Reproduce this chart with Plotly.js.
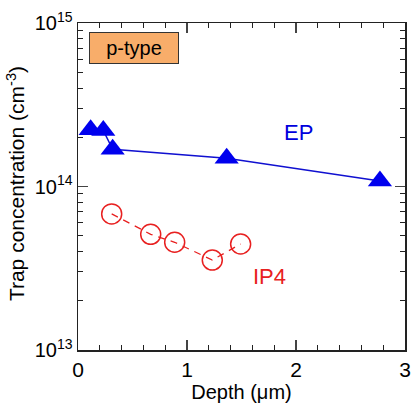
<!DOCTYPE html>
<html><head><meta charset="utf-8">
<script src="https://cdn.plot.ly/plotly-3.0.1.min.js"></script>
<style>body{margin:0;background:#fff}#c{width:413px;height:405px}</style>
</head><body><div id="c"></div>
<script>
const epDepth = [0.116, 0.232, 0.318, 1.364, 2.77];
const epConc  = [2.22e14, 2.2e14, 1.69e14, 1.49e14, 1.08e14];
const ip4Depth = [0.309, 0.667, 0.887, 1.232, 1.492];
const ip4Conc  = [6.8e13, 5.1e13, 4.56e13, 3.55e13, 4.45e13];
const yTickVals = [1e13, 1e14, 1e15];
const yTickText = ['10<sup>13</sup>', '10<sup>14</sup>', '10<sup>15</sup>'];
const xTickVals = [0, 1, 2, 3];

const font = {family: 'Liberation Sans, Arial, sans-serif', color: '#000'};
const data = [
  {x: epDepth, y: epConc, mode: 'lines+markers', type: 'scatter',
   line: {color: '#1010d0', width: 1.5},
   marker: {symbol: 'triangle-up', size: 21, color: '#0000ee'}},
  {x: ip4Depth, y: ip4Conc, mode: 'lines+markers', type: 'scatter',
   line: {color: '#e82020', width: 1.3, dash: '7px,6px'},
   marker: {symbol: 'circle-open', size: 20, color: '#e82020', line: {width: 1.5, color: '#e82020'}}}
];
const layout = {
  width: 413, height: 405, showlegend: false,
  margin: {l: 78, r: 8, t: 23, b: 55},
  paper_bgcolor: '#fff', plot_bgcolor: '#fff',
  font: Object.assign({size: 20}, font),
  xaxis: {range: [0, 3], tickvals: xTickVals, ticks: 'inside', ticklen: 10, tickwidth: 1.2,
          showline: true, linecolor: '#222', linewidth: 1.5, mirror: 'allticks', showgrid: false, zeroline: false,
          minor: {dtick: 0.2, ticks: 'inside', ticklen: 5, tickwidth: 1, tickcolor: '#222'},
          tickfont: Object.assign({size: 21}, font),
          title: {text: 'Depth (μm)', font: Object.assign({size: 20}, font), standoff: 2}},
  yaxis: {type: 'log', range: [13, 15], tickvals: yTickVals, ticktext: yTickText,
          ticks: 'inside', ticklen: 10, tickwidth: 1.2,
          showline: true, linecolor: '#222', linewidth: 1.5, mirror: 'allticks', showgrid: false, zeroline: false,
          minor: {tickvals: [2e13,3e13,4e13,5e13,6e13,7e13,8e13,9e13,2e14,3e14,4e14,5e14,6e14,7e14,8e14,9e14],
                  ticks: 'inside', ticklen: 5, tickwidth: 1, tickcolor: '#222'},
          tickfont: Object.assign({size: 20}, font)},
  annotations: [
    {x: -0.19, y: 0.51, xref: 'paper', yref: 'paper', xanchor: 'center', yanchor: 'middle',
     text: 'Trap concentration (cm<sup>-3</sup>)',
     textangle: -90, showarrow: false, font: Object.assign({}, font, {size: 21})},
    {x: 2.02, y: Math.log10(2.15e14), xref: 'x', yref: 'y', text: 'EP', showarrow: false,
     font: Object.assign({}, font, {size: 22, color: '#0000dd'})},
    {x: 1.76, y: Math.log10(2.8e13), xref: 'x', yref: 'y', text: 'IP4', showarrow: false,
     font: Object.assign({}, font, {size: 22, color: '#e82020'})},
    {x: 0.034, y: 0.973, xref: 'paper', yref: 'paper', xanchor: 'left', yanchor: 'top',
     text: 'p-type', showarrow: false, width: 86, height: 28,
     bgcolor: '#f8ad6a', bordercolor: '#333', borderwidth: 1, borderpad: 1,
     font: Object.assign({}, font, {size: 20})}
  ]
};
Plotly.newPlot('c', data, layout, {staticPlot: true});
</script></body></html>
